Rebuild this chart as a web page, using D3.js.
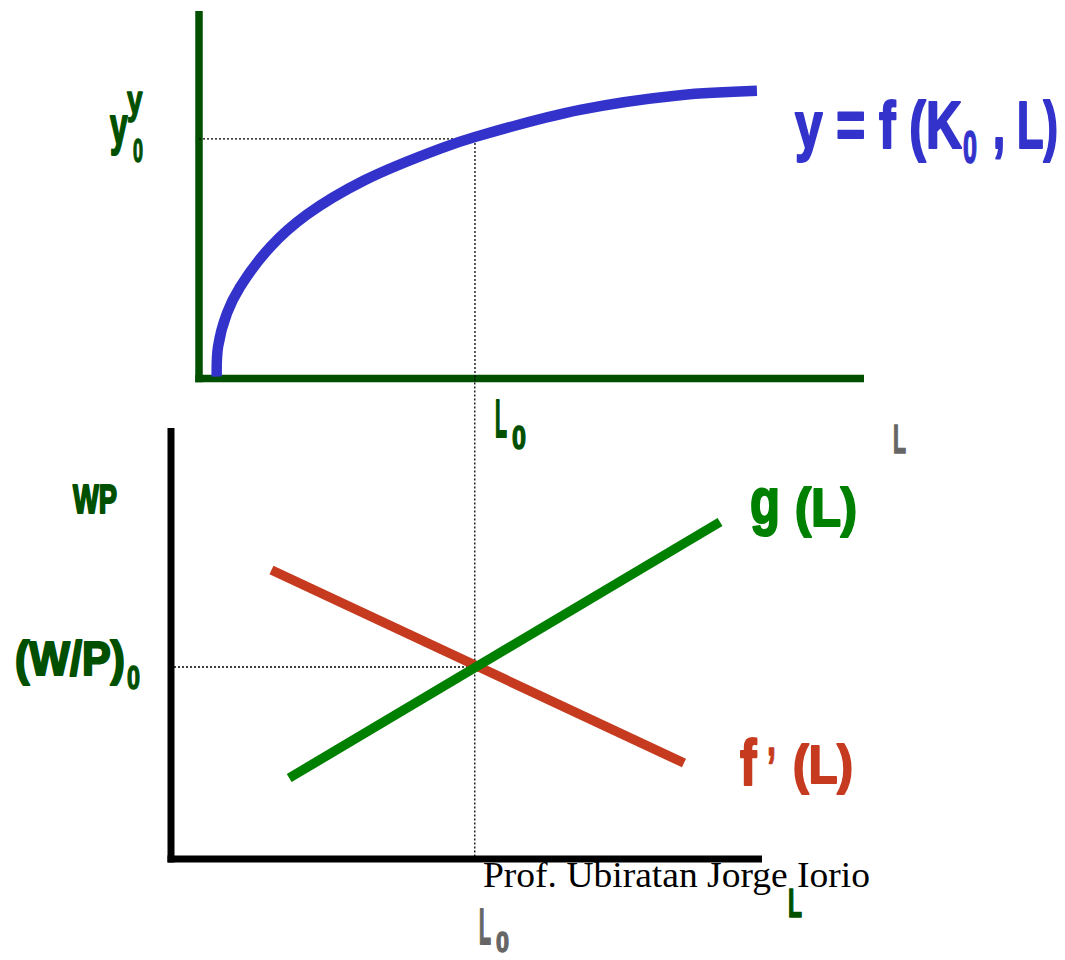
<!DOCTYPE html>
<html>
<head>
<meta charset="utf-8">
<script src="https://cdn.jsdelivr.net/npm/d3@7"></script>
<style>
  html, body { margin: 0; padding: 0; background: #ffffff; }
  svg { display: block; }
</style>
</head>
<body>
<svg id="chart" width="1065" height="960"></svg>
<script>
// Production function y = f(K0, L): labour input vs output
const prodL = [2.66, 2.86, 4.21, 6.17, 10.78, 16.24, 24.96, 36.5, 41.5, 57.29, 72.33, 83.9];
const prodY = [0.5, 8.6, 17.8, 24.9, 35.9, 44.6, 54.0, 62.7, 65.7, 73.1, 77.1, 78.3];
const L0top = 41.5;   // equilibrium employment on the upper panel
const y0 = 65.2;      // output at L0

// Labour market: demand f'(L) and supply g(L), real wage W/P
const demandL = [17.0, 86.8];
const demandW = [67.05, 22.27];
const supplyL = [20.0, 92.9];
const supplyW = [18.79, 78.19];
const L0bot = 51.4;
const wp0 = 44.55;

const C = {
  dark: "#005000",
  green: "#008000",
  blue: "#3333cc",
  red: "#c63b1f",
  gray: "#666666",
  black: "#000000"
};
const LABEL_FONT = "'Liberation Sans Narrow', 'Liberation Sans', 'DejaVu Sans Condensed', Arial, sans-serif";

const svg = d3.select("#chart");

// ---------- upper panel ----------
const xT = d3.scaleLinear().domain([0, 100]).range([199, 864]);
const yT = d3.scaleLinear().domain([0, 100]).range([378.5, 11]);

const upper = svg.append("g");
const axW = 7.5;
upper.append("line")
  .attr("x1", xT(0)).attr("x2", xT(0))
  .attr("y1", yT(100)).attr("y2", yT(0) + axW / 2)
  .attr("stroke", C.dark).attr("stroke-width", axW);
upper.append("line")
  .attr("x1", xT(0) - axW / 2).attr("x2", xT(100))
  .attr("y1", yT(0)).attr("y2", yT(0))
  .attr("stroke", C.dark).attr("stroke-width", axW);

// guide lines to (L0, y0)
upper.append("line")
  .attr("x1", xT(0)).attr("x2", xT(L0top))
  .attr("y1", yT(y0)).attr("y2", yT(y0))
  .attr("stroke", "#000").attr("stroke-width", 1.3).attr("stroke-dasharray", "2,2");
upper.append("line")
  .attr("x1", xT(L0top)).attr("x2", xT(L0top))
  .attr("y1", yT(y0)).attr("y2", yT(0))
  .attr("stroke", "#000").attr("stroke-width", 1.3).attr("stroke-dasharray", "2,2");

const prodPts = prodL.map((l, i) => [l, prodY[i]]);
upper.append("path")
  .datum(prodPts)
  .attr("fill", "none")
  .attr("stroke", C.blue)
  .attr("stroke-width", 10.5)
  .attr("d", d3.line().x(d => xT(d[0])).y(d => yT(d[1])).curve(d3.curveCatmullRom.alpha(0.5)));

// ---------- lower panel ----------
const xB = d3.scaleLinear().domain([0, 100]).range([171, 762]);
const yB = d3.scaleLinear().domain([0, 100]).range([859, 428]);

const lower = svg.append("g");
const bW = 7;

lower.append("line")
  .attr("x1", xB(0) + 3).attr("x2", xB(L0bot))
  .attr("y1", yB(wp0)).attr("y2", yB(wp0))
  .attr("stroke", "#000").attr("stroke-width", 1.3).attr("stroke-dasharray", "2,2");
lower.append("line")
  .attr("x1", xB(L0bot)).attr("x2", xB(L0bot))
  .attr("y1", yT(0)).attr("y2", yB(0))
  .attr("stroke", "#000").attr("stroke-width", 1.3).attr("stroke-dasharray", "2,2");

lower.append("line")
  .attr("x1", xB(0)).attr("x2", xB(0))
  .attr("y1", yB(100)).attr("y2", yB(0) + bW / 2)
  .attr("stroke", C.black).attr("stroke-width", bW);
lower.append("line")
  .attr("x1", xB(0) - bW / 2).attr("x2", xB(100))
  .attr("y1", yB(0)).attr("y2", yB(0))
  .attr("stroke", C.black).attr("stroke-width", bW);

const lineB = d3.line().x(d => xB(d[0])).y(d => yB(d[1]));
lower.append("path")
  .datum(demandL.map((l, i) => [l, demandW[i]]))
  .attr("fill", "none").attr("stroke", C.red).attr("stroke-width", 9.5)
  .attr("d", lineB);
lower.append("path")
  .datum(supplyL.map((l, i) => [l, supplyW[i]]))
  .attr("fill", "none").attr("stroke", C.green).attr("stroke-width", 9.5)
  .attr("d", lineB);

// ---------- labels ----------
// place a heavy condensed label between x0 and x1 on the given baseline
function label(str, x0, x1, baseline, size, color, weight = 2) {
  const t = svg.append("text")
    .attr("x", 0).attr("y", baseline)
    .attr("font-family", LABEL_FONT)
    .attr("font-weight", "bold")
    .attr("font-size", size)
    .attr("fill", color)
    .attr("stroke", color)
    .attr("stroke-width", weight)
    .attr("stroke-linejoin", "round")
    .attr("xml:space", "preserve")
    .text(str);
  const b = t.node().getBBox();
  const s = (x1 - x0) / b.width;
  t.attr("transform", `translate(${x0 - b.x * s},0) scale(${s},1)`);
  return t;
}

// y = f(K0, L)
label("y = f (K", 795, 962, 148, 66, C.blue, 2.2);
label("0", 963, 977, 163, 46, C.blue, 1.6);
label(", L)", 993, 1058, 148, 66, C.blue, 2.2);

// y0 with y superscript on the vertical axis
label("y", 110, 128, 144, 51, C.dark);
label("y", 127, 143, 114, 40, C.dark, 1.6);
label("0", 133, 143, 162, 33, C.dark, 1.4);

// L0 under upper axis, L at axis end
label("L", 495, 507, 437, 53, C.dark);
label("0", 512, 526, 449, 33, C.dark, 1.4);
label("L", 893, 906, 453, 41, C.gray, 1.6);

// lower panel axis labels
label("WP", 73, 117, 513, 41, C.dark, 2.2);
label("(W/P)", 15, 125, 675, 48, C.dark, 2.2);
label("0", 127, 140, 689, 33, C.dark, 1.4);

// curve labels
label("g", 750, 780, 523, 64, C.green, 2.2);
label("(L)", 795, 857, 526, 53, C.green, 2.2);
label("f", 740, 757, 785, 64, C.red, 2.2);
label("\u2019", 767, 776, 785, 53, C.red, 1.6);
label("(L)", 793, 853, 783, 53, C.red, 2.2);

label("L", 788, 802, 917, 40, C.dark, 1.6);
label("L", 479, 491, 944, 50, C.gray);
label("0", 496, 509, 952, 30, C.gray, 1.4);

// credit line
const credit = svg.append("text")
  .attr("x", 0).attr("y", 887)
  .attr("font-family", "'Liberation Serif', 'Times New Roman', serif")
  .attr("font-size", 36)
  .attr("fill", "#000")
  .text("Prof. Ubiratan Jorge Iorio");
{
  const b = credit.node().getBBox();
  const s = (870 - 483) / b.width;
  credit.attr("transform", `translate(${483 - b.x * s},0) scale(${s},1)`);
}
</script>
</body>
</html>
